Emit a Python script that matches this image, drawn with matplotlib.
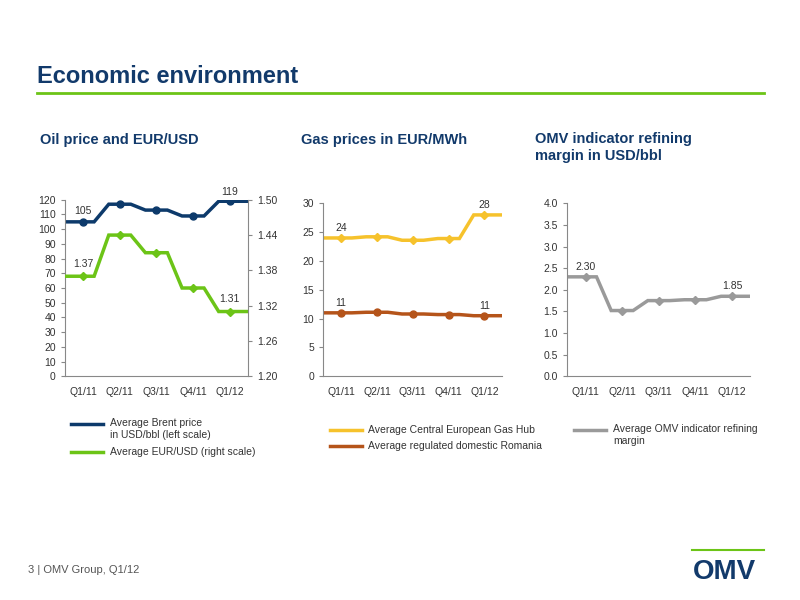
import matplotlib
matplotlib.use("Agg")
import matplotlib.pyplot as plt
from matplotlib.lines import Line2D
import numpy as np

quarters = ["Q1/11", "Q2/11", "Q3/11", "Q4/11", "Q1/12"]
brent = [105, 117, 113, 109, 119]
eurusd = [1.37, 1.44, 1.41, 1.35, 1.31]
gas_ceg = [24.0, 24.2, 23.6, 23.9, 28.0]
gas_ro = [11.0, 11.1, 10.8, 10.7, 10.5]
margin = [2.30, 1.52, 1.75, 1.77, 1.85]

NAVY = "#0d3a6b"; GREEN = "#6cc417"; YEL = "#f6c22c"; BRN = "#b5541a"; GREY = "#9a9a9a"
TXT = "#333333"

plt.rcParams['font.family'] = ['Liberation Sans', 'DejaVu Sans']
fig = plt.figure(figsize=(8, 6), dpi=100)

def steps(vals):
    xs, ys = [], []
    n = len(vals)
    for i, v in enumerate(vals):
        xs += [-0.5 if i == 0 else i - 0.3, 4.5 if i == n - 1 else i + 0.3]
        ys += [v, v]
    return xs, ys

def draw(ax, vals, color, marker, ms=5):
    xs, ys = steps(vals)
    ax.plot(xs, ys, color=color, lw=2.5, solid_joinstyle='miter')
    ax.plot(range(len(vals)), vals, ls='none', marker=marker, color=color, ms=ms)

def style(ax):
    for s in ['top', 'right']:
        ax.spines[s].set_visible(False)
    for s in ['left', 'bottom', 'right']:
        ax.spines[s].set_color('#888888')
    ax.set_xlim(-0.5, 4.5)
    ax.set_xticks(range(5))
    ax.set_xticklabels(quarters)
    ax.tick_params(labelsize=7.5, colors=TXT, length=3, color='#888888')
    ax.tick_params(axis='x', length=0, pad=8)

# Chart 1
ax1 = fig.add_axes([0.081, 0.373, 0.229, 0.294])
style(ax1)
ax1.set_ylim(0, 120); ax1.set_yticks(range(0, 121, 10))
ax2 = ax1.twinx()
ax2.set_ylim(1.20, 1.50); ax2.set_yticks([1.20, 1.26, 1.32, 1.38, 1.44, 1.50])
ax2.set_yticklabels(["1.20", "1.26", "1.32", "1.38", "1.44", "1.50"])
for s in ['top', 'left', 'bottom']:
    ax2.spines[s].set_visible(False)
ax2.spines['right'].set_color('#888888')
ax2.tick_params(labelsize=7.5, colors=TXT, length=3, color='#888888')
draw(ax1, brent, NAVY, 'o')
draw(ax2, eurusd, GREEN, 'D', 4.5)
ax1.text(0, brent[0] + 4, "105", ha='center', va='bottom', fontsize=7.5, color=TXT)
ax1.text(4, brent[4] + 3, "119", ha='center', va='bottom', fontsize=7.5, color=TXT)
ax2.text(0, eurusd[0] + 0.012, "1.37", ha='center', va='bottom', fontsize=7.5, color=TXT)
ax2.text(4, eurusd[4] + 0.012, "1.31", ha='center', va='bottom', fontsize=7.5, color=TXT)

# Chart 2
ax3 = fig.add_axes([0.404, 0.373, 0.224, 0.288])
style(ax3)
ax3.set_ylim(0, 30); ax3.set_yticks(range(0, 31, 5))
draw(ax3, gas_ceg, YEL, 'D', 4.5)
draw(ax3, gas_ro, BRN, 'o')
ax3.text(0, gas_ceg[0] + 0.8, "24", ha='center', va='bottom', fontsize=7.5, color=TXT)
ax3.text(4, gas_ceg[4] + 0.8, "28", ha='center', va='bottom', fontsize=7.5, color=TXT)
ax3.text(0, gas_ro[0] + 0.8, "11", ha='center', va='bottom', fontsize=7.5, color=TXT)
ax3.text(4, gas_ro[4] + 0.8, "11", ha='center', va='bottom', fontsize=7.5, color=TXT)

# Chart 3
ax4 = fig.add_axes([0.709, 0.373, 0.229, 0.288])
style(ax4)
ax4.set_ylim(0, 4); ax4.set_yticks(np.arange(0, 4.01, 0.5))
ax4.set_yticklabels([f"{v:.1f}" for v in np.arange(0, 4.01, 0.5)])
draw(ax4, margin, GREY, 'D', 4.5)
ax4.text(0, margin[0] + 0.12, "2.30", ha='center', va='bottom', fontsize=7.5, color=TXT)
ax4.text(4, margin[4] + 0.12, "1.85", ha='center', va='bottom', fontsize=7.5, color=TXT)

# Titles
fig.text(0.046, 0.862, "Economic environment", fontsize=17, fontweight='bold', color='#123a6b')
fig.add_artist(Line2D([0.046, 0.955], [0.845, 0.845], color='#6cc417', lw=2))
fig.text(0.05, 0.760, "Oil price and EUR/USD", fontsize=10.5, fontweight='bold', color='#123a6b')
fig.text(0.376, 0.760, "Gas prices in EUR/MWh", fontsize=10.5, fontweight='bold', color='#123a6b')
fig.text(0.669, 0.780, "OMV indicator refining\nmargin in USD/bbl", fontsize=10.5, fontweight='bold',
         color='#123a6b', linespacing=1.3, va='top')

# Legends
def leg(x, y, color, text, ty=None):
    fig.add_artist(Line2D([x, x + 0.04], [y, y], color=color, lw=2.5))
    fig.text(x + 0.048, y if ty is None else ty, text, fontsize=7.5, color=TXT,
             va='top' if '\n' in text else 'center', linespacing=1.2)
leg(0.089, 0.293, NAVY, "Average Brent price\nin USD/bbl (left scale)", 0.303)
leg(0.089, 0.247, GREEN, "Average EUR/USD (right scale)")
leg(0.412, 0.283, YEL, "Average Central European Gas Hub")
leg(0.412, 0.256, BRN, "Average regulated domestic Romania")
leg(0.718, 0.283, GREY, "Average OMV indicator refining\nmargin", 0.293)

# Footer
fig.text(0.035, 0.045, "3 | OMV Group, Q1/12", fontsize=8, color='#555555')
fig.text(0.945, 0.035, "OMV", fontsize=20, color='#123a6b', ha='right', fontweight='bold')
fig.add_artist(Line2D([0.865, 0.955], [0.083, 0.083], color='#6cc417', lw=1.5))

fig.savefig("out.png", dpi=100)
